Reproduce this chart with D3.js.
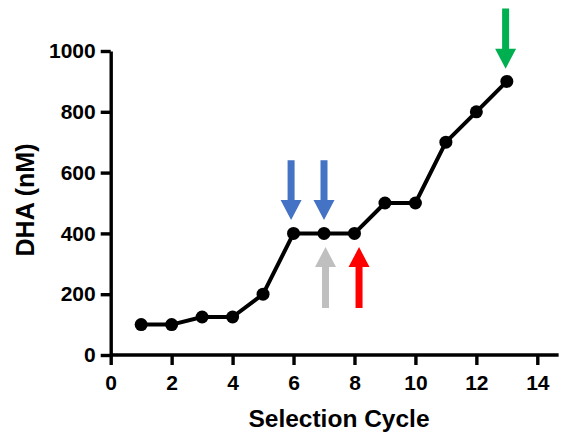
<!DOCTYPE html>
<html><head><meta charset="utf-8">
<script src="https://cdn.jsdelivr.net/npm/d3@7"></script>
<style>html,body{margin:0;padding:0;background:#fff;}svg{display:block;}</style>
</head><body>
<svg id="c" width="561" height="435"></svg>
<script>
const cycles = [1,2,3,4,5,6,7,8,9,10,11,12,13];
const dha = [100,100,125,125,200,400,400,400,500,500,700,800,900];
const xTicks = [0,2,4,6,8,10,12,14];
const yTicks = [0,200,400,600,800,1000];
// annotation arrows: x position (cycle), tail value, tip value (nM)
const arrowX = [5.92, 7.0, 7.05, 8.15, 12.96];
const arrowTail = [641, 641, 155, 155, 1140];
const arrowTip = [444, 444, 355, 355, 942];
const arrowColor = ["#4472C4","#4472C4","#BFBFBF","#FF0000","#00B050"];

const svg = d3.select("#c");
const x = d3.scaleLinear().domain([0,14]).range([110.7,537.3]);
const y = d3.scaleLinear().domain([0,1000]).range([355,51]);
const font = "'Liberation Sans', Arial, sans-serif";

// axes
const gx = svg.append("g").attr("transform","translate(0,355)")
  .call(d3.axisBottom(x).tickValues(xTicks).tickFormat(d3.format("d")).tickSize(10).tickSizeOuter(0).tickPadding(10));
gx.select(".domain").attr("d", `M${x(0)},0H${x(14.7)}`);
const gy = svg.append("g").attr("transform",`translate(${x(0)},0)`)
  .call(d3.axisLeft(y).tickValues(yTicks).tickFormat(d3.format("d")).tickSize(10).tickSizeOuter(0).tickPadding(5));
[gx,gy].forEach(g=>{
  g.select(".domain").attr("stroke","#000").attr("stroke-width",3.4);
  g.selectAll(".tick line").attr("stroke","#000").attr("stroke-width",3.4);
  g.selectAll(".tick text").attr("fill","#000").style("font-family",font)
   .style("font-weight","bold").style("font-size","21px");
});

svg.append("text").attr("x",339).attr("y",426.5).attr("text-anchor","middle")
  .style("font-family",font).style("font-weight","bold").style("font-size","24.5px")
  .text("Selection Cycle");
svg.append("text").attr("transform","translate(34,200) rotate(-90)").attr("text-anchor","middle")
  .style("font-family",font).style("font-weight","bold").style("font-size","25px")
  .text("DHA (nM)");

// line + points
const pts = cycles.map((c,i)=>[c,dha[i]]);
svg.append("path").datum(pts)
  .attr("d", d3.line().x(d=>x(d[0])).y(d=>y(d[1])))
  .attr("fill","none").attr("stroke","#000").attr("stroke-width",4).attr("stroke-linejoin","round");
svg.selectAll("circle.pt").data(pts).join("circle").attr("class","pt")
  .attr("cx",d=>x(d[0])).attr("cy",d=>y(d[1])).attr("r",6.5).attr("fill","#000");

// arrows
const shaftW = 7, headW = 21, headL = 20;
arrowX.forEach((ax,i)=>{
  const cx = x(ax), yT = y(arrowTail[i]), yP = y(arrowTip[i]);
  const dir = yP > yT ? 1 : -1;
  const yb = yP - dir*headL;
  const p = [
    [cx-shaftW/2,yT],[cx+shaftW/2,yT],[cx+shaftW/2,yb],[cx+headW/2,yb],
    [cx,yP],[cx-headW/2,yb],[cx-shaftW/2,yb]
  ];
  svg.append("polygon").attr("points",p.map(q=>q.join(",")).join(" ")).attr("fill",arrowColor[i]);
});
</script>
</body></html>
